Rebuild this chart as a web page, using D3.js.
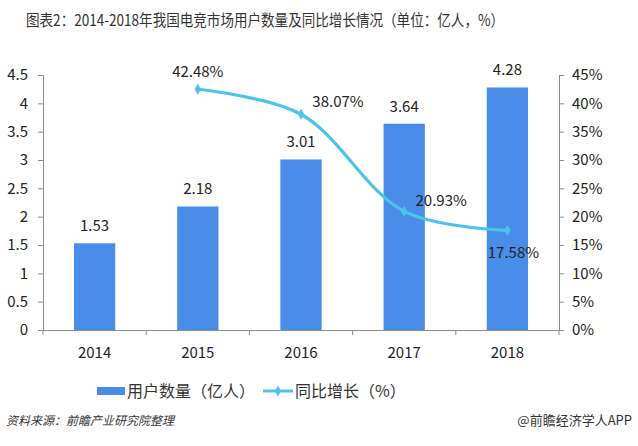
<!DOCTYPE html>
<html><head><meta charset="utf-8">
<script src="https://cdn.jsdelivr.net/npm/d3@7"></script>
<style>
body{margin:0;background:#fff;}
svg{display:block;}
text{font-family:"Noto Sans CJK SC","Open Sans",sans-serif;}
</style></head>
<body>
<svg id="c" width="638" height="446"></svg>
<script>
const categories = ["2014","2015","2016","2017","2018"];
const users = [1.53, 2.18, 3.01, 3.64, 4.28];
const growthYears = ["2015","2016","2017","2018"];
const growth = [42.48, 38.07, 20.93, 17.58];
const leftTicks = [0,0.5,1,1.5,2,2.5,3,3.5,4,4.5];
const rightTicks = [0,5,10,15,20,25,30,35,40,45];

const svg = d3.select("#c");
const numFont = "Lato, 'Open Sans', sans-serif";
const axisColor = "#8c8c8c";
const x0 = 43, x1 = 559, yTop = 75, yBot = 330;

const x = d3.scaleBand().domain(categories).range([x0, x1]).paddingInner(0.6).paddingOuter(0.3);
const xb = d3.scaleBand().domain(categories).range([x0, x1]);
const yL = d3.scaleLinear().domain([0,4.5]).range([yBot, yTop]);
const yR = d3.scaleLinear().domain([0,45]).range([yBot, yTop]);

// title
svg.append("text").attr("x",26).attr("y",26).attr("font-size",15.5).attr("fill","#333")
  .attr("textLength",478).attr("lengthAdjust","spacingAndGlyphs")
  .text("图表2：2014-2018年我国电竞市场用户数量及同比增长情况（单位：亿人，%）");

// bars
svg.append("g").selectAll("rect").data(users).join("rect")
  .attr("x",(d,i)=>x(categories[i])).attr("width",x.bandwidth())
  .attr("y",d=>yL(d)).attr("height",d=>yBot-yL(d)).attr("fill","#4a8de8");

svg.append("g").selectAll("text").data(users).join("text")
  .attr("x",(d,i)=>x(categories[i])+x.bandwidth()/2).attr("y",d=>yL(d)-12)
  .attr("text-anchor","middle").attr("font-size",15).attr("font-family",numFont).attr("fill","#222")
  .text(d=>d.toFixed(2));

// axes
const gL = svg.append("g").attr("transform",`translate(${x0},0)`)
  .call(d3.axisLeft(yL).tickValues(leftTicks).tickSize(5).tickPadding(10).tickFormat(d=>String(d)));
const gR = svg.append("g").attr("transform",`translate(${x1},0)`)
  .call(d3.axisRight(yR).tickValues(rightTicks).tickSize(5).tickPadding(8).tickFormat(d=>d+"%"));
const gX = svg.append("g").attr("transform",`translate(0,${yBot})`)
  .call(d3.axisBottom(xb).tickSize(0).tickPadding(17));
[gL,gR,gX].forEach(g=>{
  g.select(".domain").attr("stroke",axisColor);
  g.selectAll(".tick line").attr("stroke",axisColor);
  g.selectAll(".tick text").attr("font-size",15).attr("font-family",numFont).attr("fill","#222");
});
// category boundary ticks
const bounds = categories.map(c=>xb(c)).concat([x1]);
svg.append("g").selectAll("line").data(bounds).join("line")
  .attr("x1",d=>d).attr("x2",d=>d).attr("y1",yBot).attr("y2",yBot+5).attr("stroke",axisColor);

// line
const pts = growth.map((v,i)=>[xb(growthYears[i])+xb.bandwidth()/2, yR(v)]);
svg.append("path").attr("d",d3.line().curve(d3.curveCatmullRom.alpha(0.5))(pts))
  .attr("fill","none").attr("stroke","#4cc3ea").attr("stroke-width",3.2);
svg.append("g").selectAll("path").data(pts).join("path")
  .attr("transform",d=>`translate(${d[0]},${d[1]})`)
  .attr("d",d3.symbol(d3.symbolDiamond,36)).attr("fill","#4cc3ea");

const off = [[0,-17],[37,-12],[37,-10],[6,23]];
svg.append("g").selectAll("text").data(growth).join("text")
  .attr("x",(d,i)=>pts[i][0]+off[i][0]).attr("y",(d,i)=>pts[i][1]+off[i][1]+5)
  .attr("text-anchor","middle").attr("font-size",15).attr("font-family",numFont).attr("fill","#222")
  .text(d=>d.toFixed(2)+"%");

// legend
svg.append("rect").attr("x",97).attr("y",387).attr("width",28).attr("height",8).attr("fill","#4a8de8");
svg.append("text").attr("x",127).attr("y",397).attr("font-size",16).attr("fill","#333").text("用户数量（亿人）");
svg.append("line").attr("x1",263).attr("x2",293).attr("y1",391).attr("y2",391).attr("stroke","#4cc3ea").attr("stroke-width",3);
svg.append("path").attr("transform","translate(278,391)").attr("d",d3.symbol(d3.symbolDiamond,36)).attr("fill","#4cc3ea");
svg.append("text").attr("x",295).attr("y",397).attr("font-size",16).attr("fill","#333").text("同比增长（%）");

// footer
svg.append("text").attr("x",6).attr("y",425).attr("font-size",12).attr("font-style","italic").attr("fill","#333")
  .text("资料来源：前瞻产业研究院整理");
svg.append("text").attr("x",632).attr("y",425).attr("text-anchor","end").attr("font-size",13).attr("fill","#333")
  .text("@前瞻经济学人APP");
</script>
</body></html>
